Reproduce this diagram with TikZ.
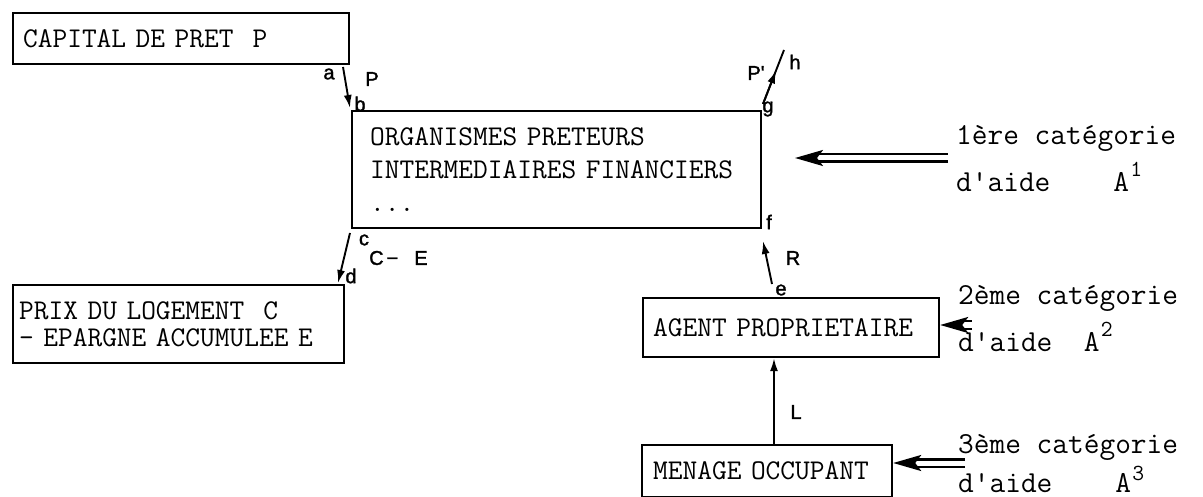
\documentclass[tikz,border=0pt]{standalone}
\usepackage{fontspec}
\newfontfamily\sanslab{Liberation Sans}[FakeBold=1.5]
\usetikzlibrary{arrows.meta,calc}
\begin{document}
\begin{tikzpicture}[x=1pt,y=-1pt,
  box/.style={draw, line width=2.2pt, rectangle, anchor=north west, align=left,
    inner ysep=0pt, font=\fontsize{28.6}{33}\selectfont\ttfamily},
  lab/.style={font=\fontsize{20}{20}\selectfont\sanslab, inner sep=0pt},
  side/.style={font=\fontsize{30.5}{34}\selectfont\ttfamily, anchor=base west, inner sep=0pt},
  sup/.style={font=\fontsize{23}{23}\selectfont\ttfamily, anchor=base west, inner sep=0pt},
  flow/.style={line width=1.9pt, -{Latex[length=13pt,width=8pt]}},
  aid/.style={double, double distance=5pt, line width=2.5pt, -{Stealth[length=28pt,width=16pt,inset=6pt]}}
]
\useasboundingbox (0,0) rectangle (1203,497);

% boxes
\node[box, minimum width=336pt, minimum height=51pt, text width=316pt, inner xsep=10pt] (cap) at (12,12) {CAPITAL DE PRET~~P};
\node[box, minimum width=409pt, minimum height=117pt, text width=373pt, inner xsep=18pt] (org) at (351,110) {ORGANISMES PRETEURS\\INTERMEDIAIRES FINANCIERS\\...};
\node[box, minimum width=331pt, minimum height=78pt, text width=319pt, inner xsep=6pt, font=\fontsize{28.6}{27}\selectfont\ttfamily] (prix) at (12,284) {PRIX DU LOGEMENT~~C\\- EPARGNE ACCUMULEE E};
\node[box, minimum width=296pt, minimum height=59pt, text width=276pt, inner xsep=10pt] (agent) at (642,297) {AGENT PROPRIETAIRE};
\node[box, minimum width=250pt, minimum height=52pt, text width=228pt, inner xsep=11pt] (men) at (641,444) {MENAGE OCCUPANT};

% side labels
\node[side] (l1a) at (956,145) {1ère catégorie};
\node[side] (l1b) at (956,192) {d\textquotesingle aide~~~~A};
\node[sup] (s1) at ([xshift=1pt]l1b.base east) [yshift=15pt] {1};
\node[side] (l2a) at (958,305) {2ème catégorie};
\node[side] (l2b) at (958,351) {d\textquotesingle aide~~A};
\node[sup] (s2) at ([xshift=1pt]l2b.base east) [yshift=15pt] {2};
\node[side] (l3a) at (958,453) {3ème catégorie};
\node[side] (l3b) at (958,492) {d\textquotesingle aide~~~~A};
\node[sup] (s3) at ([xshift=1pt]l3b.base east) [yshift=12pt] {3};

% aid arrows
\coordinate (t1) at (948,158);
\coordinate (h1) at (795,158);
\coordinate (t2) at (972,325);
\coordinate (t3) at (965,463);
\draw[aid] (t1) -- (h1);
\draw[aid] (t2) -- (t2 -| agent.east);
\draw[aid] (t3) -- (t3 -| men.east);

% flow connectors
\coordinate (a) at (343,67);
\coordinate (b) at (350,108);
\coordinate (c) at (350,233);
\coordinate (d) at (338,283);
\coordinate (e) at (772,284);
\coordinate (f) at (763,241);
\coordinate (g) at (763,104);
\coordinate (h) at (784,50);
\coordinate (lx) at (774,0);
\draw[flow] (a) -- (b);
\draw[flow] (c) -- (d);
\draw[flow] (e) -- (f);
\draw[line width=1.9pt] (g) -- (h);
\draw[flow] (g) -- ($(g)!0.62!(h)$);
\draw[flow] (men.north -| lx) -- (agent.south -| lx);

% letters
\node[lab] (la) at (329,74) {a};
\node[lab] (lP) at (372,79) {P};
\node[lab] (lb) at (360,104) {b};
\node[lab] (lc) at (364,240) {c};
\node[lab, anchor=west] (lCE) at (369,258) {C\hspace{3pt}−\hspace{16pt}E};
\node[lab] (ld) at (351,276) {d};
\node[lab] (lf) at (769,222) {f};
\node[lab] (lR) at (793,258) {R};
\node[lab] (le) at (781,290) {e};
\node[lab] (lPp) at (756,73) {P\textquotesingle};
\node[lab] (lh) at (795,62) {h};
\node[lab] (lg) at (768,109) {g};
\node[lab] (lL) at (796,412) {L};
\end{tikzpicture}
\end{document}
